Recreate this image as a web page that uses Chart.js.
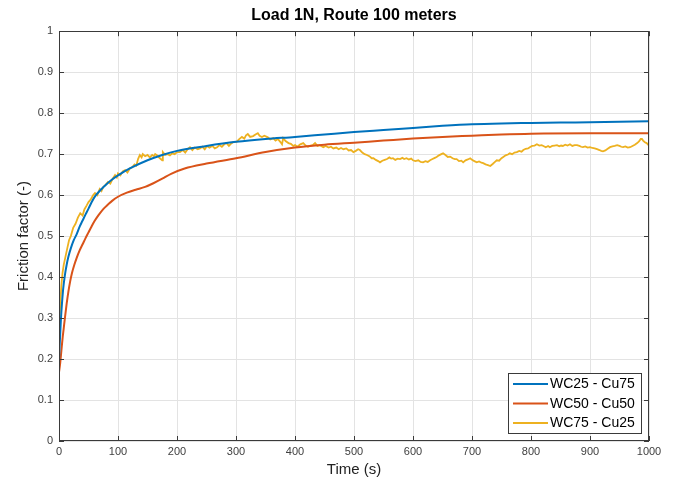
<!DOCTYPE html>
<html>
<head>
<meta charset="utf-8">
<title>Friction factor</title>
<script src="https://cdn.jsdelivr.net/npm/chart.js@4/dist/chart.umd.min.js"></script>
<style>
    html, body { margin: 0; padding: 0; background: #fff; }
    #wrap { width: 676px; height: 484px; }
</style>
</head>
<body>
<div id="wrap"><canvas id="graph" width="676" height="484"></canvas></div>
<script>
// WC25 - Cu75
var timeBlue = [0, 1, 2, 3, 4, 5, 7, 10, 13, 16, 20, 25, 30, 35, 40, 45, 50, 55, 61, 70, 80, 90, 100, 120, 150, 175, 200, 250, 300, 350, 400, 450, 500, 550, 600, 650, 700, 750, 800, 850, 900, 950, 1000];
var frictionBlue = [0.195, 0.23, 0.26, 0.29, 0.315, 0.335, 0.37, 0.405, 0.43, 0.45, 0.47, 0.49, 0.505, 0.523, 0.538, 0.553, 0.567, 0.582, 0.597, 0.612, 0.626, 0.638, 0.648, 0.665, 0.685, 0.698, 0.708, 0.72, 0.73, 0.737, 0.742, 0.748, 0.754, 0.759, 0.764, 0.769, 0.773, 0.775, 0.776, 0.777, 0.778, 0.779, 0.78];

// WC50 - Cu50
var timeRed = [0, 2, 4, 6, 8, 10, 13, 16, 19, 22, 26, 30, 35, 40, 45, 50, 55, 60, 67, 75, 83, 90, 100, 115, 130, 146, 160, 175, 190, 213, 250, 300, 350, 400, 450, 500, 550, 600, 650, 700, 750, 800, 900, 1000];
var frictionRed = [0.168, 0.19, 0.22, 0.25, 0.275, 0.30, 0.335, 0.365, 0.39, 0.41, 0.43, 0.447, 0.465, 0.48, 0.495, 0.509, 0.523, 0.536, 0.551, 0.566, 0.577, 0.586, 0.596, 0.606, 0.613, 0.62, 0.629, 0.64, 0.652, 0.665, 0.677, 0.69, 0.705, 0.716, 0.723, 0.728, 0.733, 0.738, 0.742, 0.745, 0.748, 0.75, 0.751, 0.751];

// WC75 - Cu25 (noisy trace)
var timeYellow = [0, 2, 4, 6, 8, 11, 14, 17, 20, 24, 28, 32, 36, 40, 43, 47, 50, 54, 58, 61, 65, 69, 72, 75, 79, 83, 87, 91, 95, 98,
    100, 104, 108, 112, 116, 120, 124, 128, 131, 134, 137, 140, 142, 146, 150, 154, 158, 161, 163, 167, 171, 175, 176, 180, 184, 188, 192, 196,
    200, 205, 210, 214, 218, 222, 226, 230, 235, 239, 243, 247, 251, 255, 260, 264, 268, 272, 276, 280, 284, 288, 292, 296,
    301, 305, 310, 314, 317, 320, 324, 329, 333, 337, 340, 344, 348, 354, 358, 363, 367, 371, 375, 378, 380, 384, 389, 393, 397,
    400, 404, 409, 414, 418, 422, 425, 430, 434, 438, 442, 448, 452, 457, 461, 465, 470, 474, 478, 482, 487, 491, 495, 499,
    503, 507, 510, 514, 518, 522, 526, 530, 533, 537, 541, 544, 548, 552, 556, 560, 563, 566, 570, 574, 578, 582, 585, 589, 593, 597,
    600, 604, 609, 613, 617, 621, 625, 629, 633, 637, 640, 644, 648, 651, 655, 659, 663, 667, 671, 674, 678, 682, 685, 689, 693, 697,
    700, 704, 708, 712, 716, 719, 723, 727, 731, 735, 738, 742, 746, 750, 753, 757, 761, 764, 768, 772, 776, 780, 784, 787, 791, 795, 798,
    802, 806, 810, 814, 818, 821, 825, 829, 832, 836, 840, 844, 848, 851, 854, 858, 862, 866, 870, 874, 878, 882, 885, 888, 892, 896,
    900, 904, 908, 912, 916, 919, 922, 926, 930, 934, 938, 942, 946, 950, 953, 956, 960, 964, 968, 972, 976, 980, 983, 986, 988, 990, 993, 996, 998, 1000];
var frictionYellow = [0.27, 0.33, 0.38, 0.41, 0.43, 0.45, 0.47, 0.49, 0.50, 0.52, 0.53, 0.545, 0.556, 0.55, 0.565, 0.575, 0.583, 0.59, 0.60, 0.605, 0.60, 0.615, 0.61, 0.62, 0.625, 0.632, 0.628, 0.64, 0.649, 0.643,
    0.653, 0.648, 0.658, 0.661, 0.655, 0.665, 0.668, 0.675, 0.672, 0.688, 0.698, 0.692, 0.70, 0.695, 0.698, 0.692, 0.698, 0.695, 0.70, 0.696, 0.69, 0.685, 0.705, 0.698, 0.70, 0.697, 0.702, 0.70,
    0.705, 0.705, 0.71, 0.704, 0.712, 0.717, 0.71, 0.716, 0.712, 0.714, 0.718, 0.712, 0.72, 0.716, 0.72, 0.714, 0.717, 0.722, 0.718, 0.724, 0.727, 0.72, 0.726, 0.73,
    0.73, 0.736, 0.742, 0.738, 0.746, 0.749, 0.742, 0.744, 0.748, 0.751, 0.745, 0.742, 0.745, 0.741, 0.736, 0.739, 0.733, 0.737, 0.73, 0.724, 0.739, 0.732, 0.727, 0.725, 0.72,
    0.722, 0.718, 0.724, 0.727, 0.721, 0.718, 0.72, 0.722, 0.727, 0.72, 0.722, 0.717, 0.72, 0.716, 0.718, 0.714, 0.716, 0.712, 0.715, 0.712, 0.714, 0.709, 0.71, 0.705,
    0.708, 0.712, 0.71, 0.704, 0.70, 0.698, 0.695, 0.69, 0.69, 0.686, 0.683, 0.68, 0.684, 0.686, 0.688, 0.692, 0.689, 0.69, 0.686, 0.689, 0.688, 0.691, 0.688, 0.69, 0.687, 0.689,
    0.685, 0.683, 0.685, 0.681, 0.68, 0.683, 0.681, 0.685, 0.688, 0.691, 0.693, 0.697, 0.70, 0.702, 0.698, 0.693, 0.694, 0.69, 0.688, 0.688, 0.683, 0.684, 0.68, 0.685, 0.687, 0.69,
    0.686, 0.683, 0.68, 0.682, 0.679, 0.678, 0.675, 0.673, 0.671, 0.676, 0.68, 0.685, 0.684, 0.69, 0.693, 0.697, 0.699, 0.702, 0.70, 0.704, 0.705, 0.708, 0.706, 0.71, 0.713, 0.714, 0.717,
    0.72, 0.721, 0.724, 0.721, 0.722, 0.72, 0.717, 0.72, 0.717, 0.72, 0.721, 0.722, 0.719, 0.721, 0.72, 0.723, 0.721, 0.724, 0.72, 0.722, 0.722, 0.72, 0.718, 0.717, 0.719, 0.716,
    0.717, 0.715, 0.714, 0.712, 0.71, 0.708, 0.707, 0.709, 0.713, 0.717, 0.719, 0.72, 0.722, 0.72, 0.718, 0.717, 0.719, 0.716, 0.717, 0.72, 0.723, 0.727, 0.731, 0.737, 0.737, 0.733, 0.729, 0.727, 0.724, 0.721];

var seriesNames = ["WC25 - Cu75", "WC50 - Cu50", "WC75 - Cu25"];
var seriesColors = ["#0072BD", "#D95319", "#EDB120"];

var chartTitle = "Load 1N, Route 100 meters";
var xTitle = "Time (s)";
var yTitle = "Friction factor (-)";

function toPoints(xs, ys) {
    return xs.map(function (x, i) { return {x: x, y: ys[i]}; });
}

const FONT = "'Liberation Sans', Arial, Helvetica, sans-serif";
const AXIS_COLOR = "#3a3a3a";

// box round the axes with MATLAB style inward ticks on all four sides
const axesBox = {
    id: "axesBox",
    afterDatasetsDraw(chart) {
        const ctx = chart.ctx;
        const a = chart.chartArea;
        const len = 5;
        ctx.save();
        ctx.strokeStyle = AXIS_COLOR;
        ctx.lineWidth = 1;
        ctx.beginPath();
        chart.scales.x.ticks.forEach(function (t) {
            var px = Math.round(chart.scales.x.getPixelForValue(t.value)) + 0.5;
            ctx.moveTo(px, a.bottom);
            ctx.lineTo(px, a.bottom - len);
            ctx.moveTo(px, a.top);
            ctx.lineTo(px, a.top + len);
        });
        chart.scales.y.ticks.forEach(function (t) {
            var py = Math.round(chart.scales.y.getPixelForValue(t.value)) + 0.5;
            ctx.moveTo(a.left, py);
            ctx.lineTo(a.left + len, py);
            ctx.moveTo(a.right, py);
            ctx.lineTo(a.right - len, py);
        });
        ctx.stroke();
        ctx.strokeRect(Math.round(a.left) + 0.5, Math.round(a.top) + 0.5,
            Math.round(a.right - a.left) - 1, Math.round(a.bottom - a.top) - 1);
        ctx.restore();
    }
};

// boxed legend in the lower right corner of the axes
const boxLegend = {
    id: "boxLegend",
    afterDraw(chart) {
        const ctx = chart.ctx;
        const a = chart.chartArea;
        const w = 133, h = 60, rowH = 19.5;
        const x0 = Math.round(a.right) - 8 - w;
        const y0 = Math.round(a.bottom) - 8 - h;
        ctx.save();
        ctx.fillStyle = "#fff";
        ctx.fillRect(x0, y0, w, h);
        ctx.strokeStyle = AXIS_COLOR;
        ctx.lineWidth = 1;
        ctx.strokeRect(x0 + 0.5, y0 + 0.5, w, h);
        ctx.font = "14px " + FONT;
        ctx.textBaseline = "middle";
        chart.data.datasets.forEach(function (ds, i) {
            var cy = y0 + 11 + i * rowH;
            ctx.strokeStyle = ds.borderColor;
            ctx.lineWidth = 2;
            ctx.beginPath();
            ctx.moveTo(x0 + 5, cy);
            ctx.lineTo(x0 + 40, cy);
            ctx.stroke();
            ctx.fillStyle = "#000";
            ctx.fillText(ds.label, x0 + 42, cy + 0.5);
        });
        ctx.restore();
    }
};

document.addEventListener("DOMContentLoaded", function () {
    var lineData = [
        toPoints(timeBlue, frictionBlue),
        toPoints(timeRed, frictionRed),
        toPoints(timeYellow, frictionYellow)
    ];

    var datasets = lineData.map(function (pts, i) {
        return {
            label: seriesNames[i],
            data: pts,
            borderColor: seriesColors[i],
            backgroundColor: seriesColors[i],
            borderWidth: i === 2 ? 1.8 : 2,
            pointRadius: 0,
            cubicInterpolationMode: i === 2 ? "default" : "monotone",
            tension: 0
        };
    });

    new Chart(document.getElementById("graph"), {
        type: "line",
        data: {datasets: datasets},
        options: {
            responsive: false,
            animation: false,
            events: [],
            layout: {padding: {left: 0, right: 27, top: 1, bottom: 0}},
            plugins: {
                legend: {display: false},
                tooltip: {enabled: false},
                title: {
                    display: true,
                    text: chartTitle,
                    fullSize: false,
                    color: "#000",
                    font: {family: FONT, size: 16, weight: "bold"},
                    padding: {top: 5, bottom: 6}
                }
            },
            scales: {
                x: {
                    type: "linear",
                    min: 0,
                    max: 1000,
                    afterFit: function (s) { s.height = 43; },
                    ticks: {
                        stepSize: 100,
                        maxRotation: 0,
                        padding: 4,
                        color: "#404040",
                        font: {family: FONT, size: 11},
                        callback: function (v) { return String(v); }
                    },
                    grid: {color: "#e3e3e3", drawTicks: false},
                    border: {display: false},
                    title: {
                        display: true,
                        text: xTitle,
                        color: "#222",
                        font: {family: FONT, size: 15},
                        padding: {top: 0, bottom: 5}
                    }
                },
                y: {
                    min: 0,
                    max: 1,
                    afterFit: function (s) { s.width = 59; },
                    ticks: {
                        stepSize: 0.1,
                        padding: 6,
                        color: "#404040",
                        font: {family: FONT, size: 11},
                        callback: function (v) { return Math.round(v * 10) / 10; }
                    },
                    grid: {color: "#e3e3e3", drawTicks: false},
                    border: {display: false},
                    title: {
                        display: true,
                        text: yTitle,
                        color: "#222",
                        font: {family: FONT, size: 15},
                        padding: {top: 15, bottom: 0}
                    }
                }
            }
        },
        plugins: [axesBox, boxLegend]
    });
});
</script>
</body>
</html>
